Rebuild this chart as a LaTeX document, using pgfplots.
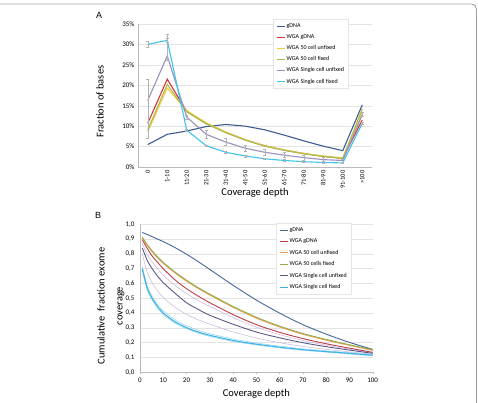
\documentclass[border=0pt]{standalone}
\usepackage{pgfplots}
\pgfplotsset{compat=1.18}
\usepackage{pgfplotstable}
\usepackage{fontspec}
\setmainfont{Carlito}
\newfontfamily\arialfont{Liberation Sans}

\definecolor{cgdnaA}{HTML}{3E5C93}
\definecolor{credA}{HTML}{D3343A}
\definecolor{cyelA}{HTML}{F5CB45}
\definecolor{cgrnA}{HTML}{A7BF4A}
\definecolor{cpurA}{HTML}{9A8FBE}
\definecolor{ccyaA}{HTML}{3EC3EE}

\definecolor{cgdnaB}{HTML}{46679C}
\definecolor{credB}{HTML}{BC3F48}
\definecolor{corgB}{HTML}{F59A55}
\definecolor{cgrnB}{HTML}{8FAE45}
\definecolor{cpurB}{HTML}{5B5888}
\definecolor{clpurB}{HTML}{C8B2DA}
\definecolor{ccyaB}{HTML}{3DB4E6}
\definecolor{clcyaB}{HTML}{9ED8F0}

\pgfplotstableread{
x gdna wgag u50 f50 su sf sup sum sfe
0 5.5 10.7 8.6 9.1 16.3 30.0 5.2 9.3 0.8
1 8.0 21.5 19.3 20.2 27.2 31.0 5.2 1.0 0.5
2 8.8 13.6 13.8 13.5 12.2 9.0 0.5 0.5 0.2
3 9.9 10.6 10.8 10.6 8.0 5.2 1.0 1.0 0.2
4 10.4 8.5 8.6 8.4 6.1 3.6 0.9 0.9 0.2
5 10.0 6.6 6.7 6.6 4.6 2.7 0.8 0.8 0.2
6 9.1 5.2 5.2 5.1 3.6 2.0 0.7 0.7 0.2
7 7.8 4.1 4.2 4.1 2.9 1.6 0.6 0.6 0.2
8 6.4 3.3 3.3 3.2 2.3 1.3 0.6 0.6 0.1
9 5.1 2.6 2.7 2.6 1.8 1.1 0.5 0.5 0.1
10 4.0 2.1 2.2 2.1 1.6 1.0 0.4 0.4 0.1
11 15.2 11.5 13.5 14.2 12.8 10.7 0.5 0.5 0.3
}\dataA

\pgfplotstableread{
x gdna red orange green dpur lpa lpb cyan cya cyb
1 0.945 0.895 0.906 0.912 0.840 0.870 0.800 0.700 0.715 0.685
3 0.932 0.840 0.859 0.865 0.760 0.800 0.680 0.575 0.590 0.562
5 0.918 0.790 0.819 0.825 0.705 0.750 0.610 0.505 0.520 0.493
8 0.897 0.735 0.766 0.772 0.640 0.690 0.540 0.435 0.450 0.425
10 0.883 0.700 0.736 0.742 0.605 0.655 0.505 0.400 0.415 0.390
15 0.843 0.625 0.672 0.678 0.535 0.588 0.440 0.342 0.356 0.333
20 0.798 0.565 0.616 0.622 0.470 0.532 0.392 0.302 0.315 0.294
25 0.748 0.515 0.566 0.572 0.425 0.485 0.355 0.272 0.284 0.265
30 0.695 0.470 0.522 0.528 0.385 0.445 0.325 0.250 0.261 0.243
40 0.588 0.390 0.439 0.445 0.325 0.370 0.273 0.215 0.225 0.209
50 0.488 0.322 0.366 0.372 0.272 0.305 0.232 0.190 0.198 0.185
60 0.400 0.270 0.306 0.312 0.233 0.255 0.200 0.170 0.177 0.165
70 0.322 0.228 0.257 0.262 0.200 0.215 0.175 0.153 0.159 0.149
80 0.258 0.193 0.217 0.222 0.173 0.183 0.155 0.140 0.145 0.136
90 0.202 0.163 0.182 0.186 0.150 0.157 0.138 0.128 0.133 0.124
100 0.155 0.135 0.148 0.152 0.128 0.132 0.122 0.115 0.120 0.111
}\dataB

\pgfplotsset{
  legend image code/.code={\draw[#1, line width=0.9pt] (0pt,0pt) -- (8pt,0pt);},
}
\pgfplotsset{
  common/.style={
    scale only axis,
    anchor=south west,
    axis x line*=bottom,
    axis y line*=left,
    axis line style={gray!55, -},
    ymajorgrids,
    grid style={gray!22, line width=0.4pt},
    ytick style={draw=none},
    tick label style={font=\fontsize{7}{8}\selectfont},
    /pgf/number format/assume math mode=true,
    label style={font=\fontsize{10.5}{18}\selectfont},
    legend cell align=left,
    clip=false,
  },
}

\begin{document}
\begin{tikzpicture}[x=1pt,y=1pt]
\useasboundingbox (0,0) rectangle (478,403);
\draw[gray!75, line width=0.9pt, rounded corners=5pt] (0,399) -- (476.5,399) -- (476.5,-3);
\node[font=\arialfont\fontsize{9}{10}\selectfont] at (99,388) {A};
\node[font=\arialfont\fontsize{9}{10}\selectfont] at (98,188) {B};

% ---------------- Panel A ----------------
\begin{axis}[common,
  at={(138pt,236pt)},
  width=234pt, height=143pt,
  xmin=-0.5, xmax=11.5, ymin=0, ymax=35,
  xtick={0,...,11},
  xticklabels={0,1-10,11-20,21-30,31-40,41-50,51-60,61-70,71-80,81-90,91-100,>100},
  xtick style={draw=none},
  xticklabel style={rotate=90, anchor=east, font=\fontsize{6.5}{7}\selectfont},
  ytick={0,5,...,35},
  yticklabels={0\%,5\%,10\%,15\%,20\%,25\%,30\%,35\%},
  xlabel={Coverage depth},
  ylabel={Fraction of bases},
  xlabel style={at={(axis description cs:0.5,-0.18)}, anchor=center},
  ylabel style={at={(axis description cs:-0.162,0.457)}, anchor=center},
  legend style={at={(0.577,1.035)}, anchor=north west, draw=gray!20, fill=white,
    font=\fontsize{6}{7}\selectfont, row sep=2.3pt, inner xsep=3pt, inner ysep=2.5pt,
    nodes={inner sep=1.5pt, text height=4.4pt, text depth=1.4pt}},
  every axis plot/.append style={line width=1.1pt, mark=none},
]
\addplot[cgdnaA] table[x=x, y=gdna] {\dataA};
\addlegendentry{gDNA}
\addplot[credA] table[x=x, y=wgag] {\dataA};
\addlegendentry{WGA gDNA}
\addplot[cyelA] table[x=x, y=u50] {\dataA};
\addlegendentry{WGA 50 cell unfixed}
\addplot[cgrnA] table[x=x, y=f50] {\dataA};
\addlegendentry{WGA 50 cell fixed}
\addplot[cpurA, error bars/.cd, y dir=both, y explicit,
  error bar style={gray!60, line width=0.5pt},
  error mark options={rotate=90, mark size=1.6pt, gray!60, line width=0.5pt}]
  table[x=x, y=su, y error plus=sup, y error minus=sum] {\dataA};
\addlegendentry{WGA Single cell unfixed}
\addplot[ccyaA, error bars/.cd, y dir=both, y explicit,
  error bar style={gray!60, line width=0.5pt},
  error mark options={rotate=90, mark size=1.6pt, gray!60, line width=0.5pt}]
  table[x=x, y=sf, y error=sfe] {\dataA};
\addlegendentry{WGA Single cell fixed}
\end{axis}

% ---------------- Panel B ----------------
\begin{axis}[common,
  at={(140pt,30.7pt)},
  width=232.7pt, height=148pt,
  xmin=0, xmax=100, ymin=0, ymax=1,
  xtick={0,10,...,100},
  xtick style={gray!55, line width=0.4pt},
  tick align=outside, major tick length=2pt,
  ytick={0,0.1,0.2,0.3,0.4,0.5,0.6,0.7,0.8,0.9,1},
  yticklabels={{0,0},{0,1},{0,2},{0,3},{0,4},{0,5},{0,6},{0,7},{0,8},{0,9},{1,0}},
  xlabel={Coverage depth},
  ylabel={Cumulative\ \ fraction exome\\coverage},
  xlabel style={at={(axis description cs:0.5,-0.142)}, anchor=center},
  ylabel style={at={(axis description cs:-0.1255,0.448)}, anchor=center, align=center},
  legend style={at={(0.584,1.009)}, anchor=north west, draw=gray!20, fill=white,
    font=\fontsize{6}{7}\selectfont, row sep=2.6pt, inner xsep=3pt, inner ysep=2.5pt,
    nodes={inner sep=1.5pt, text height=4.4pt, text depth=1.4pt}},
  every axis plot/.append style={mark=none, smooth, tension=0.5},
]
\addplot[clpurB, line width=0.5pt, forget plot] table[x=x, y=lpa] {\dataB};
\addplot[clpurB, line width=0.5pt, forget plot] table[x=x, y=lpb] {\dataB};
\addplot[clcyaB, line width=0.6pt, forget plot] table[x=x, y=cya] {\dataB};
\addplot[clcyaB, line width=0.6pt, forget plot] table[x=x, y=cyb] {\dataB};
\addplot[cgdnaB, line width=0.9pt] table[x=x, y=gdna] {\dataB};
\addlegendentry{gDNA}
\addplot[credB, line width=0.9pt] table[x=x, y=red] {\dataB};
\addlegendentry{WGA gDNA}
\addplot[corgB, line width=0.9pt] table[x=x, y=orange] {\dataB};
\addlegendentry{WGA 50 cell unfixed}
\addplot[cgrnB, line width=0.9pt] table[x=x, y=green] {\dataB};
\addlegendentry{WGA 50 cells fixed}
\addplot[cpurB, line width=0.9pt] table[x=x, y=dpur] {\dataB};
\addlegendentry{WGA Single cell unfixed}
\addplot[ccyaB, line width=1.1pt] table[x=x, y=cyan] {\dataB};
\addlegendentry{WGA Single cell fixed}
\end{axis}
\end{tikzpicture}
\end{document}
